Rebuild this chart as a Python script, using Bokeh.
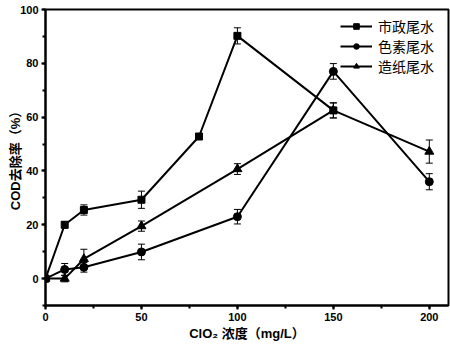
from bokeh.plotting import figure
from bokeh.models import (ColumnDataSource, Whisker, TeeHead, Legend, LegendItem,
                          SingleIntervalTicker, Range1d)
from bokeh.embed import file_html
from bokeh.resources import INLINE

# Data
x_sz = [0, 10, 20, 50, 80, 100, 150]
y_sz = [0, 20, 25.5, 29.3, 52.8, 90.2, 62.5]
e_sz = [0, 1.2, 1.9, 3.2, 1.0, 3.0, 2.8]

x_sy = [0, 10, 20, 50, 100, 150, 200]
y_sy = [0, 3.4, 4.2, 9.9, 23.0, 77.0, 36.0]
e_sy = [0, 2.2, 1.8, 2.9, 2.7, 2.9, 3.0]

x_zz = [0, 10, 20, 50, 100, 150, 200]
y_zz = [0, 0, 7.3, 19.5, 40.7, 62.5, 47.2]
e_zz = [0, 1.2, 3.6, 1.9, 2.0, 2.8, 4.3]

labels = ["市政尾水", "色素尾水", "造纸尾水"]

LATIN = "'Liberation Sans', 'Noto Sans CJK SC'"

p = figure(width=450, height=350, output_backend="svg", toolbar_location=None,
           x_range=Range1d(0, 210), y_range=Range1d(-10, 100),
           min_border_left=45, min_border_right=2, min_border_top=9, min_border_bottom=45)
p.grid.visible = False
p.outline_line_color = "black"
p.outline_line_width = 2
p.background_fill_color = "white"
p.border_fill_color = "white"

def series(x, y, e, marker, size):
    src = ColumnDataSource(dict(x=x, y=y, lo=[a - b for a, b in zip(y, e)],
                                hi=[a + b for a, b in zip(y, e)]))
    w = Whisker(source=src, base="x", lower="lo", upper="hi", line_color="black", line_width=1,
                upper_head=TeeHead(size=7, line_width=1, line_color="black"),
                lower_head=TeeHead(size=7, line_width=1, line_color="black"))
    p.add_layout(w)
    l = p.line("x", "y", source=src, line_color="black", line_width=2)
    m = p.scatter("x", "y", source=src, marker=marker, size=size,
                  fill_color="black", line_color="black")
    return [l, m]

r_zz = series(x_zz, y_zz, e_zz, "triangle", 9)
r_sy = series(x_sy, y_sy, e_sy, "circle", 8)
r_sz = series(x_sz, y_sz, e_sz, "square", 7)

legend = Legend(items=[LegendItem(label=labels[0], renderers=r_sz),
                       LegendItem(label=labels[1], renderers=r_sy),
                       LegendItem(label=labels[2], renderers=r_zz)],
                location=(295, 229), border_line_color=None, background_fill_alpha=0,
                label_text_font="'Noto Sans CJK SC'", label_text_font_size="14px",
                label_text_color="black",
                glyph_width=32, glyph_height=14, label_standoff=6, spacing=-9,
                padding=0, margin=0, label_height=14)
p.add_layout(legend)

p.xaxis.ticker = SingleIntervalTicker(interval=50, num_minor_ticks=2)
p.yaxis.ticker = SingleIntervalTicker(interval=20, num_minor_ticks=2)
for ax in (p.xaxis, p.yaxis):
    ax.axis_line_width = 2
    ax.major_tick_line_width = 2
    ax.minor_tick_line_width = 2
    ax.major_tick_in = 0
    ax.major_tick_out = 4
    ax.minor_tick_in = 0
    ax.minor_tick_out = 3
    ax.major_label_text_font = LATIN
    ax.major_label_text_font_style = "bold"
    ax.major_label_text_font_size = "11px"
    ax.major_label_text_color = "black"
    ax.axis_label_text_font = LATIN
    ax.axis_label_text_font_style = "bold"
    ax.axis_label_text_font_size = "13px"
    ax.axis_label_text_color = "black"
    ax.major_label_standoff = 3
p.xaxis.axis_label_standoff = 2
p.yaxis.axis_label_standoff = -6

p.xaxis.axis_label = "ClO₂ 浓度（mg/L）"
p.yaxis.axis_label = "COD去除率（%）"

open("out.html", "w").write(file_html(p, INLINE))
